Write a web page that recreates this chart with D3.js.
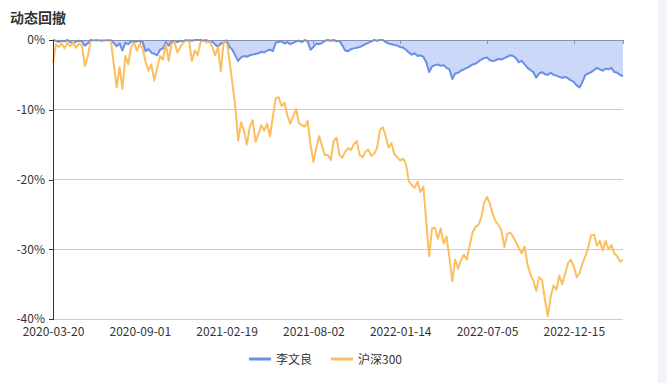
<!DOCTYPE html>
<html><head><meta charset="utf-8">
<script src="https://cdn.jsdelivr.net/npm/d3@7/dist/d3.min.js"></script>
<style>
html,body{margin:0;padding:0;background:#fff;}
svg{display:block;font-family:"Noto Sans CJK SC","Noto Sans",sans-serif;}
</style></head>
<body>
<svg id="chart" width="667" height="383"></svg>
<script>
const title = "动态回撤";
const seriesNames = ["李文良", "沪深300"];
const xTickLabels = ["2020-03-20","2020-09-01","2021-02-19","2021-08-02","2022-01-14","2022-07-05","2022-12-15"];
const xTickIndex = [0,30,60,90,120,150,180];
const yTicks = [0,-10,-20,-30,-40];

const liWenLiang = [
0,-0.1,-0.3,-0.1,-0.2,0,-0.3,-0.5,-0.2,-0.1,
-0.2,-0.8,-0.5,0,0,0,0,-0.1,0,0,
0,-0.4,-0.9,-0.5,-1.5,-0.4,-0.6,-0.2,-0.3,-0.2,
-0.1,-0.3,-1.6,-1.3,-1.8,-2.0,-2.2,-1.4,-1.2,-0.3,
-0.8,-0.2,-0.1,-0.3,-0.1,-0.2,0,0,-0.1,0,
0,0,-0.1,0,-0.3,-0.2,-0.6,-1.0,-0.5,-0.4,
-0.1,-1.0,-1.4,-2.2,-3.0,-2.5,-2.3,-2.4,-2.2,-2.1,
-2.0,-1.9,-1.7,-1.8,-1.5,-1.4,-1.6,-0.4,-0.3,-0.2,
-0.5,-0.3,-0.6,-0.4,-0.2,-0.1,-0.3,0,-0.2,-1.4,
-1.0,-0.5,-0.6,-0.4,-0.1,0,-0.1,0,-0.2,-0.1,
-0.8,-1.5,-1.6,-1.3,-1.2,-1.1,-1.0,-0.8,-0.6,-0.4,
-0.2,0,-0.1,0,0,-0.3,-0.5,-0.6,-0.7,-0.8,
-1.0,-1.1,-1.4,-1.8,-2.1,-1.9,-2.3,-2.2,-2.4,-3.2,
-4.6,-3.8,-3.6,-3.5,-3.7,-3.6,-4.0,-4.2,-5.6,-4.8,
-4.7,-4.4,-4.2,-4.0,-3.8,-3.5,-3.4,-3.1,-2.8,-2.6,
-2.5,-2.9,-3.0,-2.9,-2.7,-2.8,-2.6,-2.4,-2.2,-2.3,
-2.6,-3.2,-3.0,-3.5,-4.0,-4.3,-4.6,-5.4,-4.8,-4.6,
-4.9,-5.0,-4.7,-5.0,-5.1,-5.3,-5.4,-5.3,-5.5,-5.8,
-6.0,-6.5,-6.8,-6.0,-5.0,-4.8,-4.6,-4.3,-4.0,-4.2,
-4.4,-4.1,-4.2,-4.0,-4.6,-4.7,-5.0,-5.2
];
const hs300 = [
-3.3,-0.6,-1.0,-0.5,-1.2,-0.4,-0.9,-0.3,-1.1,-0.5,
-0.8,-3.7,-2.4,-0.2,0,-0.1,0,-0.2,0,-0.1,
0,-3.5,-6.8,-3.9,-7.0,-2.3,-3.5,-1.0,-0.4,-1.5,
-0.6,-1.2,-3.2,-4.4,-3.5,-5.8,-4.0,-2.3,-2.8,-0.6,
-3.0,-0.5,-0.3,-1.8,-1.0,-0.4,-0.1,0,-3.0,-1.5,
-2.2,-0.3,0,-0.4,-0.1,-1.0,-2.2,-1.0,-4.5,-0.2,
0,-3.0,-6.2,-9.5,-14.4,-11.8,-13.0,-15.0,-12.5,-11.5,
-14.6,-13.5,-12.2,-13.0,-12.0,-13.8,-11.0,-8.3,-8.2,-9.5,
-9.0,-10.8,-12.0,-11.0,-9.9,-11.9,-12.2,-12.4,-11.6,-15.0,
-17.5,-15.5,-13.8,-15.2,-16.5,-16.5,-17.2,-14.5,-14.0,-16.5,
-16.9,-16.0,-15.5,-15.8,-14.9,-14.5,-16.5,-16.8,-16.0,-15.7,
-16.6,-16.3,-15.5,-12.9,-12.5,-13.8,-15.4,-14.8,-16.4,-16.8,
-17.3,-17.0,-17.8,-20.3,-20.8,-21.2,-20.3,-21.8,-21.0,-26.0,
-31.0,-27.0,-26.9,-28.5,-27.0,-29.2,-28.2,-31.2,-34.6,-31.5,
-32.8,-31.6,-30.8,-31.5,-29.5,-27.6,-26.8,-26.5,-25.5,-23.3,
-22.5,-23.5,-25.0,-26.0,-26.5,-27.3,-29.7,-27.8,-27.6,-28.2,
-29.0,-29.8,-30.6,-29.6,-32.2,-33.6,-34.5,-36.0,-34.0,-34.4,
-37.2,-39.6,-36.8,-35.2,-35.8,-33.8,-35.0,-33.5,-32.0,-31.5,
-32.5,-34.0,-33.4,-32.0,-31.0,-29.7,-28.0,-27.9,-29.5,-28.8,
-30.2,-28.8,-30.0,-29.4,-30.6,-31.0,-31.8,-31.5
];

const colors = {blue:"#6b8ee8", blueFill:"rgba(107,142,232,0.35)", orange:"#fcbf5f", text:"#333"};
const svg = d3.select("#chart");
const plotLeft = 53, plotRight = 623, plotTop = 40, plotBottom = 319;

svg.append("rect").attr("x",658).attr("y",0).attr("width",9).attr("height",383).attr("fill","#f2f3f7");

const x = d3.scaleLinear().domain([0, liWenLiang.length-1]).range([plotLeft, plotRight]);
const y = d3.scaleLinear().domain([-40, 0]).range([plotBottom, plotTop]);

// title
svg.append("text").attr("x",10).attr("y",23).attr("font-size",14).attr("font-weight","bold")
  .attr("fill",colors.text).text(title);

// grid lines
svg.append("g").selectAll("line").data(yTicks.filter(d=>d!==0)).join("line")
  .attr("x1",plotLeft).attr("x2",plotRight).attr("y1",d=>y(d)).attr("y2",d=>y(d))
  .attr("stroke","#cccccc").attr("stroke-width",1).attr("shape-rendering","crispEdges");

// area + lines
const area = d3.area().x((d,i)=>x(i)).y0(y(0)).y1(d=>y(d));
const line = d3.line().x((d,i)=>x(i)).y(d=>y(d));
svg.append("path").datum(liWenLiang).attr("d",area).attr("fill",colors.blueFill);
svg.append("path").datum(liWenLiang).attr("d",line).attr("fill","none").attr("stroke",colors.blue).attr("stroke-width",2).attr("stroke-linejoin","round");
svg.append("path").datum(hs300).attr("d",line).attr("fill","none").attr("stroke",colors.orange).attr("stroke-width",2).attr("stroke-linejoin","round");

// top axis line at zero with ticks pointing down
const topAxis = svg.append("g").attr("transform",`translate(0,${y(0)})`)
  .call(d3.axisBottom(x).tickValues(xTickIndex).tickSize(4).tickFormat(""));
topAxis.selectAll("path,line").attr("stroke","#8792b3").attr("shape-rendering","crispEdges");

// x labels at bottom
const xAxis = svg.append("g").attr("transform",`translate(0,${plotBottom})`)
  .call(d3.axisBottom(x).tickValues(xTickIndex).tickSize(0).tickPadding(8)
  .tickFormat((d,i)=>xTickLabels[i]));
xAxis.select(".domain").remove();
xAxis.selectAll("text").attr("font-size",12).attr("fill",colors.text)
  .attr("font-family",'"Noto Sans CJK SC","Noto Sans",sans-serif');

// y axis
const yAxis = svg.append("g").attr("transform",`translate(${plotLeft},0)`)
  .call(d3.axisLeft(y).tickValues(yTicks).tickSize(4).tickPadding(4).tickFormat(d=>d+"%"));
yAxis.selectAll("path,line").attr("stroke","#333").attr("shape-rendering","crispEdges");
yAxis.selectAll("text").attr("font-size",12).attr("fill",colors.text)
  .attr("font-family",'"Noto Sans CJK SC","Noto Sans",sans-serif');

// legend
const legend = [
  {name:seriesNames[0], color:colors.blue, x:249},
  {name:seriesNames[1], color:colors.orange, x:331}
];
const lg = svg.append("g");
legend.forEach(l=>{
  lg.append("line").attr("x1",l.x).attr("x2",l.x+22).attr("y1",359).attr("y2",359)
    .attr("stroke",l.color).attr("stroke-width",3);
  lg.append("text").attr("x",l.x+27).attr("y",363.5).attr("font-size",12).attr("fill",colors.text).text(l.name);
});
</script>
</body></html>
